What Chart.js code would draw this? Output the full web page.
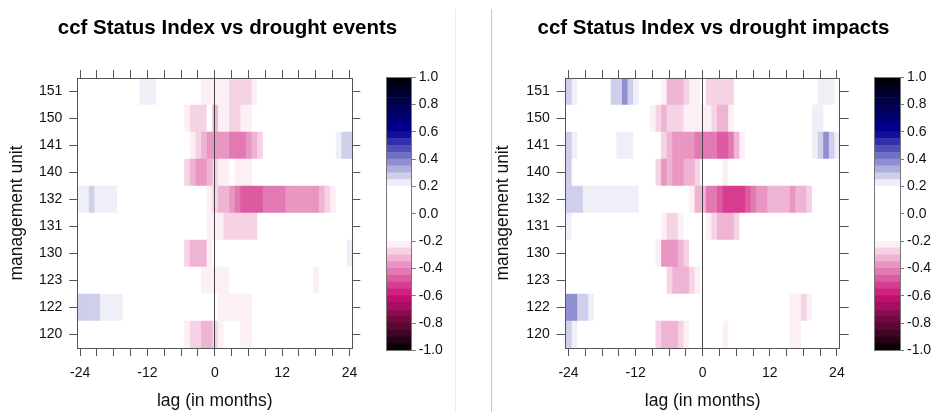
<!DOCTYPE html>
<html>
<head>
<meta charset="utf-8">
<script src="https://cdn.jsdelivr.net/npm/chart.js"></script>
<style>
  body { margin: 0; background: #fff; }
  #page { position: relative; width: 936px; height: 412px; overflow: hidden; background: #fff; }
  canvas, .sep { position: absolute; top: 0; }
  .sep { width: 1px; top: 9px; height: 403px; }
</style>
</head>
<body>
<div id="page">
  <canvas id="heatL" width="455" height="412" style="left:0px"></canvas>
  <canvas id="barL" width="85" height="412" style="left:370px"></canvas>
  <div class="sep" style="left:455px;background:#ececec"></div>
  <div class="sep" style="left:491px;background:#c8c8c8"></div>
  <canvas id="heatR" width="445" height="412" style="left:491px"></canvas>
  <canvas id="barR" width="78" height="412" style="left:858px"></canvas>
</div>
<script>
// lags (months) and management units, top row first
const lags = [-24, -23, -22, -21, -20, -19, -18, -17, -16, -15, -14, -13, -12, -11, -10, -9, -8, -7, -6, -5, -4,
  -3, -2, -1, 0, 1, 2, 3, 4, 5, 6, 7, 8, 9, 10, 11, 12, 13, 14, 15, 16, 17, 18, 19, 20, 21, 22, 23, 24];
const units = ['151', '150', '141', '140', '132', '131', '130', '123', '122', '120'];
const xTickLabels = [-24, -12, 0, 12, 24];
const keyTicks = [-1.0, -0.8, -0.6, -0.4, -0.2, 0.0, 0.2, 0.4, 0.6, 0.8, 1.0];

// colour key: 40 bands between these breaks
const keyBreaks = [-1, -0.95, -0.9, -0.85, -0.8, -0.75, -0.7, -0.65, -0.6, -0.55, -0.5, -0.45, -0.4, -0.35,
  -0.3, -0.25, -0.2, -0.15, -0.1, -0.05, 0, 0.05, 0.1, 0.15, 0.2, 0.25, 0.3, 0.35, 0.4, 0.45, 0.5, 0.55,
  0.6, 0.65, 0.7, 0.75, 0.8, 0.85, 0.9, 0.95, 1];
const keyColors = [
  '#0D0107', '#260316', '#400525', '#5A0734', '#730942', '#8D0B51', '#A70D60', '#C00F6F',
  '#D01F7F', '#D63D90', '#DD5BA1', '#E379B2', '#E996C3', '#EFB4D4', '#F6D2E5', '#FCF0F6',
  '#FFFFFF', '#FFFFFF', '#FFFFFF', '#FFFFFF', '#FFFFFF', '#FFFFFF', '#FFFFFF', '#FFFFFF',
  '#EFEFF8', '#CFCFEB', '#AFAFDE', '#8F8FD1', '#7070C4', '#5050B7', '#3030AA', '#10109D',
  '#00008D', '#00007A', '#000067', '#000054', '#000042', '#00002F', '#00001C', '#000009'
];

// ccf vs drought events, one array per unit, lag -24 .. 24
const events151 = [
  0, 0, 0, 0, 0, 0, 0,
  0, 0, 0, 0, 0.22, 0.22, 0.22,
  0, 0, 0, 0, 0, 0, 0,
  0, -0.22, -0.22, -0.22, -0.22, -0.22, -0.27,
  -0.27, -0.27, -0.27, -0.22, 0, 0, 0,
  0, 0, 0, 0, 0, 0, 0,
  0, 0, 0, 0, 0, 0, 0];
const events150 = [
  0, 0, 0, 0, 0, 0, 0,
  0, 0, 0, 0, 0, 0, 0,
  0, 0, 0, 0, 0, -0.22, -0.27,
  -0.27, -0.27, 0, -0.32, -0.22, -0.22, -0.27,
  -0.27, -0.22, -0.22, 0, 0, 0, 0,
  0, 0, 0, 0, 0, 0, 0,
  0, 0, 0, 0, 0, 0, 0];
const events141 = [
  0, 0, 0, 0, 0, 0, 0,
  0, 0, 0, 0, 0, 0, 0,
  0, 0, 0, 0, 0, 0, -0.22,
  -0.27, -0.32, -0.37, -0.37, -0.37, -0.37, -0.42,
  -0.42, -0.42, -0.37, -0.32, -0.27, 0, 0,
  0, 0, 0, 0, 0, 0, 0,
  0, 0, 0, 0, 0.22, 0.27, 0.27];
const events140 = [
  0, 0, 0, 0, 0, 0, 0,
  0, 0, 0, 0, 0, 0, 0,
  0, 0, 0, 0, 0, -0.27, -0.32,
  -0.37, -0.37, -0.32, -0.27, -0.22, -0.22, 0,
  -0.22, -0.22, -0.22, 0, 0, 0, 0,
  0, 0, 0, 0, 0, 0, 0,
  0, 0, 0, 0, 0, 0, 0];
const events132 = [
  0.22, 0.22, 0.27, 0.22, 0.22, 0.22, 0.22,
  0, 0, 0, 0, 0, 0, 0,
  0, 0, 0, 0, 0, 0, 0,
  0, 0, -0.22, -0.27, -0.32, -0.32, -0.37,
  -0.42, -0.47, -0.47, -0.47, -0.47, -0.42, -0.42,
  -0.42, -0.42, -0.37, -0.37, -0.37, -0.37, -0.37,
  -0.37, -0.32, -0.27, -0.22, 0, 0, 0];
const events131 = [
  0, 0, 0, 0, 0, 0, 0,
  0, 0, 0, 0, 0, 0, 0,
  0, 0, 0, 0, 0, 0, 0,
  0, 0, -0.22, -0.22, -0.22, -0.27, -0.27,
  -0.27, -0.27, -0.27, -0.27, 0, 0, 0,
  0, 0, 0, 0, 0, 0, 0,
  0, 0, 0, 0, 0, 0, 0];
const events130 = [
  0, 0, 0, 0, 0, 0, 0,
  0, 0, 0, 0, 0, 0, 0,
  0, 0, 0, 0, 0, -0.27, -0.32,
  -0.32, -0.32, -0.22, 0, 0, 0, 0,
  0, 0, 0, 0, 0, 0, 0,
  0, 0, 0, 0, 0, 0, 0,
  0, 0, 0, 0, 0, 0, 0.22];
const events123 = [
  0, 0, 0, 0, 0, 0, 0,
  0, 0, 0, 0, 0, 0, 0,
  0, 0, 0, 0, 0, 0, 0,
  0, -0.22, -0.22, -0.22, -0.22, -0.22, 0,
  0, 0, 0, 0, 0, 0, 0,
  0, 0, 0, 0, 0, 0, 0,
  -0.22, 0, 0, 0, 0, 0, 0];
const events122 = [
  0.27, 0.27, 0.27, 0.27, 0.22, 0.22, 0.22,
  0.22, 0, 0, 0, 0, 0, 0,
  0, 0, 0, 0, 0, 0, 0,
  0, 0, 0, 0, -0.22, -0.22, -0.22,
  -0.22, -0.22, -0.22, 0, 0, 0, 0,
  0, 0, 0, 0, 0, 0, 0,
  0, 0, 0, 0, 0, 0, 0];
const events120 = [
  0, 0, 0, 0, 0, 0, 0,
  0, 0, 0, 0, 0, 0, 0,
  0, 0, 0, 0, 0, -0.22, -0.27,
  -0.27, -0.32, -0.32, -0.27, -0.22, 0, 0,
  0, -0.22, -0.22, 0, 0, 0, 0,
  0, 0, 0, 0, 0, 0, 0,
  0, 0, 0, 0, 0, 0, 0];

// ccf vs drought impacts
const impacts151 = [
  0.27, 0.22, 0, 0, 0, 0, 0,
  0, 0.27, 0.27, 0.37, 0.27, 0.22, 0,
  0, 0, 0, -0.22, -0.32, -0.32, -0.32,
  -0.27, -0.22, -0.22, 0, -0.27, -0.27, -0.27,
  -0.27, -0.27, 0, 0, 0, 0, 0,
  0, 0, 0, 0, 0, 0, 0,
  0, 0, 0, 0.22, 0.22, 0.22, 0];
const impacts150 = [
  0, 0, 0, 0, 0, 0, 0,
  0, 0, 0, 0, 0, 0, 0,
  0, -0.22, -0.27, -0.32, -0.27, -0.27, -0.27,
  -0.22, -0.22, -0.22, -0.22, -0.22, -0.27, -0.32,
  -0.32, -0.22, 0, 0, 0, 0, 0,
  0, 0, 0, 0, 0, 0, 0,
  0, 0, 0.22, 0.22, 0, 0, 0];
const impacts141 = [
  0.27, 0.22, 0, 0, 0, 0, 0,
  0, 0, 0.22, 0.22, 0.22, 0, 0,
  0, 0, 0, -0.27, -0.32, -0.37, -0.37,
  -0.37, -0.37, -0.42, -0.42, -0.42, -0.42, -0.47,
  -0.47, -0.42, -0.32, -0.22, 0, 0, 0,
  0, 0, 0, 0, 0, 0, 0,
  0, 0, 0.22, 0.27, 0.37, 0.27, 0.22];
const impacts140 = [
  0.27, 0, 0, 0, 0, 0, 0,
  0, 0, 0, 0, 0, 0, 0,
  0, 0, -0.27, -0.37, -0.32, -0.37, -0.37,
  -0.32, -0.32, -0.27, 0, 0, 0, 0,
  -0.22, 0, 0, 0, 0, 0, 0,
  0, 0, 0, 0, 0, 0, 0,
  0, 0, 0, 0, 0, 0, 0];
const impacts132 = [
  0.27, 0.27, 0.27, 0.22, 0.22, 0.22, 0.22,
  0.22, 0.22, 0.22, 0.22, 0.22, 0.22, 0,
  0, 0, 0, 0, 0, 0, 0,
  0, -0.22, -0.32, -0.32, -0.42, -0.42, -0.47,
  -0.52, -0.52, -0.52, -0.52, -0.47, -0.42, -0.37,
  -0.37, -0.32, -0.32, -0.32, -0.32, -0.37, -0.32,
  -0.32, -0.27, 0, 0, 0, 0, 0];
const impacts131 = [
  0.22, 0, 0, 0, 0, 0, 0,
  0, 0, 0, 0, 0, 0, 0,
  0, 0, 0, -0.22, -0.27, -0.27, -0.22,
  0, 0, 0, 0, -0.22, -0.27, -0.32,
  -0.32, -0.32, -0.27, 0, 0, 0, 0,
  0, 0, 0, 0, 0, 0, 0,
  0, 0, 0, 0, 0, 0, 0];
const impacts130 = [
  0, 0, 0, 0, 0, 0, 0,
  0, 0, 0, 0, 0, 0, 0,
  0, 0, -0.22, -0.37, -0.37, -0.37, -0.32,
  -0.27, 0, 0, 0, 0, 0, 0,
  0, 0, 0, 0, 0, 0, 0,
  0, 0, 0, 0, 0, 0, 0,
  0, 0, 0, 0, 0, 0, 0];
const impacts123 = [
  0, 0, 0, 0, 0, 0, 0,
  0, 0, 0, 0, 0, 0, 0,
  0, 0, 0, 0, -0.27, -0.32, -0.32,
  -0.32, -0.27, -0.22, 0, 0, 0, 0,
  0, 0, 0, 0, 0, 0, 0,
  0, 0, 0, 0, 0, 0, 0,
  0, 0, 0, 0, 0, 0, 0];
const impacts122 = [
  0.37, 0.37, 0.27, 0.27, 0.22, 0, 0,
  0, 0, 0, 0, 0, 0, 0,
  0, 0, 0, 0, 0, 0, 0,
  0, 0, 0, 0, 0, 0, 0,
  0, 0, 0, 0, 0, 0, 0,
  0, 0, 0, 0, 0, -0.22, -0.22,
  -0.27, -0.22, 0, 0, 0, 0, 0];
const impacts120 = [
  0.27, 0.22, 0, 0, 0, 0, 0,
  0, 0, 0, 0, 0, 0, 0,
  0, 0, -0.27, -0.32, -0.32, -0.32, -0.27,
  -0.22, 0, 0, 0, 0, 0, 0,
  -0.22, 0, 0, 0, 0, 0, 0,
  0, 0, 0, 0, 0, -0.22, -0.22,
  0, 0, 0, 0, 0, 0, 0];

const eventsRows = [events151, events150, events141, events140, events132, events131, events130, events123, events122, events120];
const impactsRows = [impacts151, impacts150, impacts141, impacts140, impacts132, impacts131, impacts130, impacts123, impacts122, impacts120];

Chart.defaults.font.family = 'Liberation Sans, Arial, Helvetica, sans-serif';
Chart.defaults.color = '#111';
const AX = '#555';

function colorFor(v) {
  for (let k = 0; k < keyColors.length; k++) {
    if (v >= keyBreaks[k] && v < keyBreaks[k + 1]) return keyColors[k];
  }
  return keyColors[keyColors.length - 1];
}

function heatChart(id, titleText, rows, g) {
  const datasets = lags.map((lag, j) => ({
    data: units.map(() => [lag - 0.5, lag + 0.5]),
    backgroundColor: rows.map(r => colorFor(r[j])),
    borderWidth: 0,
    grouped: false,
    categoryPercentage: 1,
    barPercentage: 1
  }));
  const lagScale = { type: 'linear', min: -24.5, max: 24.5 };
  new Chart(document.getElementById(id), {
    type: 'bar',
    data: { labels: units, datasets: datasets },
    options: {
      indexAxis: 'y',
      responsive: false,
      animation: false,
      layout: { padding: 0 },
      plugins: {
        legend: { display: false },
        tooltip: { enabled: false },
        title: { display: true, text: titleText, color: '#000', font: { size: 20.5, weight: 'bold' },
          padding: { top: 16, bottom: 4 } }
      },
      scales: {
        x: Object.assign({}, lagScale, {
          position: 'bottom',
          ticks: { stepSize: 3, includeBounds: false, autoSkip: false, maxRotation: 0, padding: 9,
            font: { size: 14 }, callback: v => xTickLabels.includes(v) ? String(v) : '' },
          grid: { drawOnChartArea: false, tickLength: 8, color: AX, z: 1 },
          border: { color: AX, z: 1 },
          title: { display: true, text: 'lag (in months)', font: { size: 17.5 }, padding: 0 },
          afterFit: s => { s.height = 64; }
        }),
        xTop: Object.assign({}, lagScale, {
          position: 'top',
          ticks: { stepSize: 3, includeBounds: false, display: false },
          grid: { drawOnChartArea: false, tickLength: 8, color: AX, z: 1 },
          border: { color: AX, z: 1 },
          afterFit: s => { s.height = 33.4; }
        }),
        xZero: Object.assign({}, lagScale, {
          position: 'bottom',
          afterBuildTicks: s => { s.ticks = [{ value: 0 }]; },
          ticks: { display: false },
          grid: { drawOnChartArea: true, drawTicks: false, color: '#444', lineWidth: 1, z: 2 },
          border: { display: false },
          afterFit: s => { s.height = 0; }
        }),
        y: {
          type: 'category', position: 'left',
          ticks: { padding: 7, font: { size: 14 } },
          grid: { offset: false, drawOnChartArea: false, tickLength: g.tick, color: AX, z: 1 },
          border: { color: AX, z: 1 },
          title: { display: true, text: 'management unit', font: { size: 17.5 }, padding: { top: g.titlePad, bottom: 0 } },
          afterFit: s => { s.width = g.left; }
        },
        yRight: {
          type: 'category', position: 'right',
          ticks: { display: false },
          grid: { offset: false, drawOnChartArea: false, tickLength: g.tick, color: AX, z: 1 },
          border: { color: AX, z: 1 },
          afterFit: s => { s.width = g.right; }
        }
      }
    }
  });
}

function keyChart(id, g) {
  const datasets = keyColors.map((c, k) => ({
    data: [[keyBreaks[k], keyBreaks[k + 1]]],
    backgroundColor: c,
    borderWidth: 0,
    grouped: false,
    categoryPercentage: 1,
    barPercentage: 1
  }));
  const edge = { drawOnChartArea: false, drawTicks: false, color: '#777', z: 1 };
  const edgeBorder = { color: '#777', z: 1 };
  new Chart(document.getElementById(id), {
    type: 'bar',
    data: { labels: [''], datasets: datasets },
    options: {
      responsive: false,
      animation: false,
      layout: { padding: 0 },
      plugins: { legend: { display: false }, tooltip: { enabled: false } },
      scales: {
        x: { type: 'category', position: 'bottom', ticks: { display: false }, grid: edge,
          border: edgeBorder, afterFit: s => { s.height = 61.5; } },
        xTop: { type: 'category', position: 'top', ticks: { display: false }, grid: edge,
          border: edgeBorder, afterFit: s => { s.height = 77; } },
        y: {
          type: 'linear', position: 'right', min: -1, max: 1,
          afterBuildTicks: s => { s.ticks = keyTicks.map(v => ({ value: v })); },
          ticks: { padding: 3, font: { size: 14 }, callback: v => Number(v).toFixed(1) },
          grid: { drawOnChartArea: false, tickLength: 4, color: '#777', z: 1 },
          border: edgeBorder,
          afterFit: s => { s.width = g.right; }
        },
        yLeft: {
          type: 'linear', position: 'left', min: -1, max: 1,
          ticks: { display: false }, grid: edge, border: edgeBorder,
          afterFit: s => { s.width = g.left; }
        }
      }
    }
  });
}

heatChart('heatL', 'ccf Status Index vs drought events', eventsRows, { left: 77.3, right: 102.7, tick: 8, titlePad: 7 });
heatChart('heatR', 'ccf Status Index vs drought impacts', impactsRows, { left: 74.7, right: 96.3, tick: 9, titlePad: 2 });
keyChart('barL', { left: 16, right: 43.3 });
keyChart('barR', { left: 16.5, right: 36 });
</script>
</body>
</html>
